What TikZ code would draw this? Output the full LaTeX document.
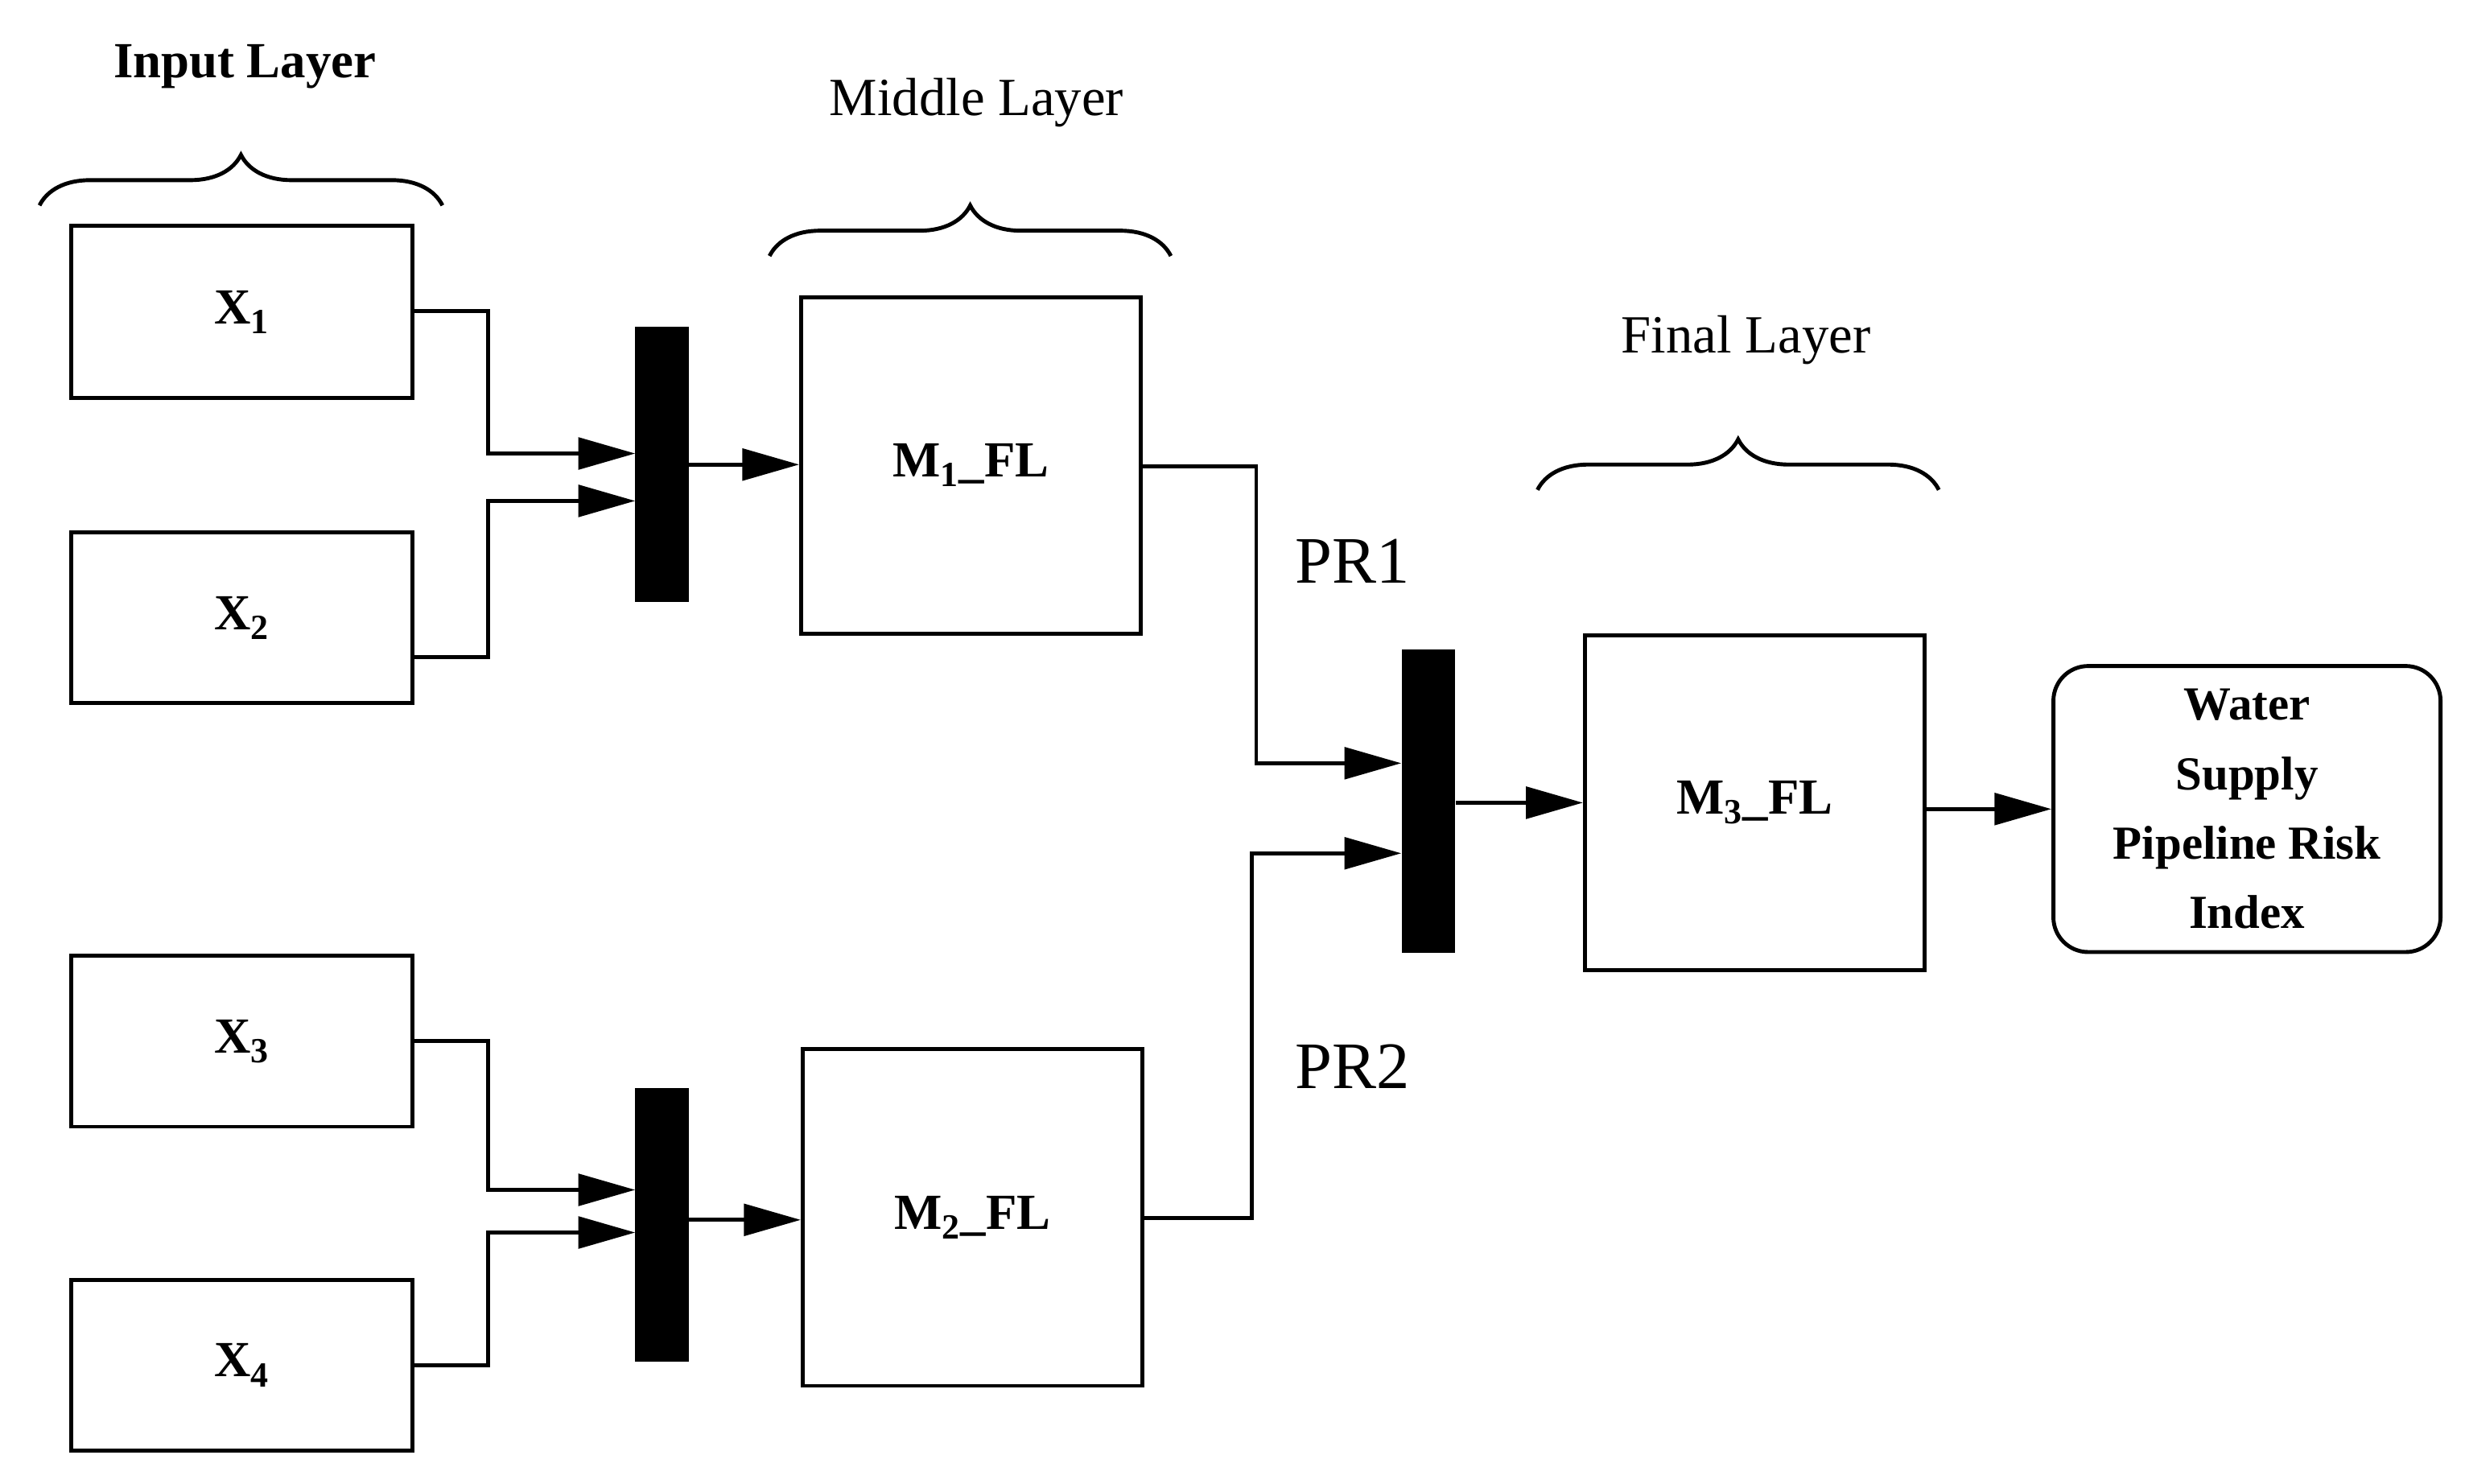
\documentclass[tikz,border=0pt]{standalone}
\usepackage{fontspec}
\setmainfont{Liberation Serif}
\usetikzlibrary{arrows.meta,decorations.pathreplacing}
\begin{document}
\begin{tikzpicture}[x=1pt,y=-1pt,
  box/.style={draw,line width=2.5pt,inner sep=0},
  bar/.style={fill=black,inner sep=0},
  con/.style={line width=2.5pt,-{Triangle[length=36pt,width=20pt]}},
  brc/.style={line width=2.5pt,decorate,decoration={brace,amplitude=32pt}},
  lbl/.style={font=\fontsize{32}{36}\selectfont\bfseries}]
\useasboundingbox (0,0) rectangle (1560,939);
\newcommand{\bx}[5]{\node[box,minimum width=#3-#2 pt,minimum height=#5-#4 pt] (#1) at ({(#2+#3)/2},{(#4+#5)/2}) {};}
\bx{x1}{45}{261}{143}{252}
\bx{x2}{45}{261}{337}{445}
\bx{x3}{45}{261}{605}{713}
\bx{x4}{45}{261}{810}{918}
\bx{m1}{507}{722}{188}{401}
\bx{m2}{508}{723}{664}{877}
\bx{m3}{1003}{1218}{402}{614}
\node[bar,minimum width=34pt,minimum height=174pt] (b1) at (419,294) {};
\node[bar,minimum width=34pt,minimum height=173pt] (b2) at (419,775) {};
\node[bar,minimum width=34pt,minimum height=192pt] (b3) at (904,507) {};
\node[draw,line width=2.5pt,rounded corners=22pt,minimum width=245pt,minimum height=181pt,align=center,font=\fontsize{30}{44}\selectfont\bfseries] (out) at (1422,512) {Water\\Supply\\Pipeline Risk\\Index};
\node[lbl] at (x1) {X\textsubscript{1}};
\node[lbl] at (x2) {X\textsubscript{2}};
\node[lbl] at (x3) {X\textsubscript{3}};
\node[lbl] at (x4) {X\textsubscript{4}};
\node[lbl] at (m1) {M\textsubscript{1}\_FL};
\node[lbl] at (m2) {M\textsubscript{2}\_FL};
\node[lbl] at (m3) {M\textsubscript{3}\_FL};
\coordinate (j1) at (402,287); \coordinate (j2) at (402,317);
\coordinate (j3) at (402,753); \coordinate (j4) at (402,780);
\draw[con] (x1.east |- 0,197) -- (309,197) -- (309,287) -- (j1);
\draw[con] (x2.east |- 0,416) -- (309,416) -- (309,317) -- (j2);
\draw[con] (x3.east |- 0,659) -- (309,659) -- (309,753) -- (j3);
\draw[con] (x4.east |- 0,864) -- (309,864) -- (309,780) -- (j4);
\draw[con] (b1.east |- 0,294) -- (m1.west |- 0,294);
\draw[con] (b2.east |- 0,772) -- (m2.west |- 0,772);
\draw[con] (m1.east |- 0,295) -- (795,295) -- (795,483) -- (b3.west |- 0,483);
\draw[con] (m2.east |- 0,771) -- (792,771) -- (792,540) -- (b3.west |- 0,540);
\draw[con] (b3.east |- 0,508) -- (m3.west |- 0,508);
\draw[con] (m3.east |- 0,512) -- (out.west |- 0,512);
\node[font=\fontsize{42}{46}\selectfont] at (856,355) {PR1};
\node[font=\fontsize{42}{46}\selectfont] at (856,675) {PR2};
\draw[brc] (25,130) -- (280,130);
\draw[brc] (487,162) -- (741,162);
\draw[brc] (973,310) -- (1227,310);
\node[font=\fontsize{32}{36}\selectfont\bfseries] at (155,42) {Input Layer};
\node[font=\fontsize{34}{38}\selectfont] at (618,65) {Middle Layer};
\node[font=\fontsize{34}{38}\selectfont] at (1105,215) {Final Layer};
\end{tikzpicture}
\end{document}
